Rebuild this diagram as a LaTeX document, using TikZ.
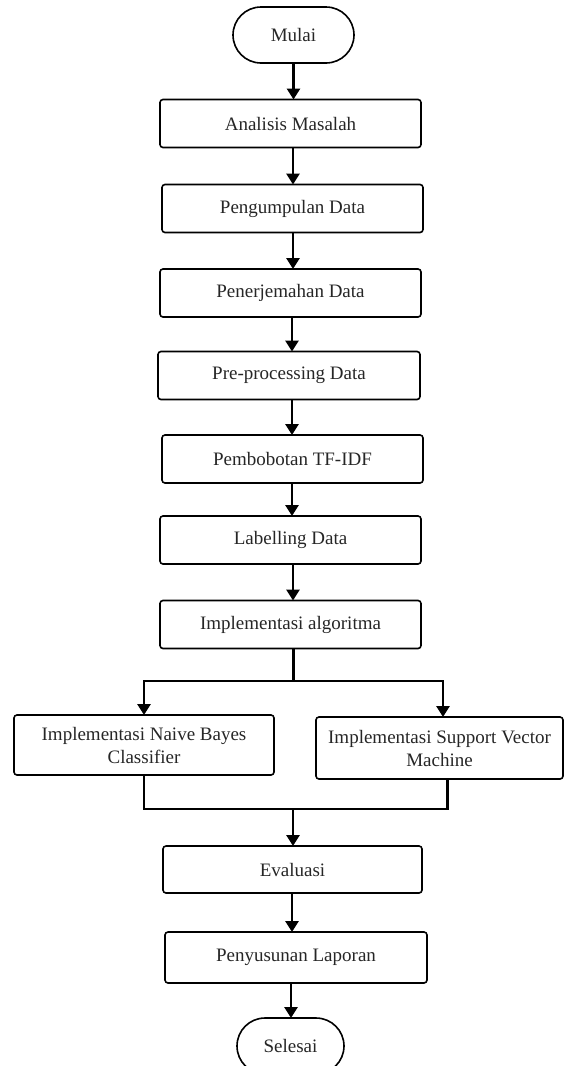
\documentclass[tikz,border=0pt]{standalone}
\usepackage{fontspec}
\setmainfont{Liberation Serif}
\usetikzlibrary{arrows.meta}
\begin{document}
\begin{tikzpicture}[x=1pt,y=-1pt,
  box/.style={draw, line width=1.6pt, rounded corners=3pt, minimum width=261pt, minimum height=48pt,
    inner sep=0pt, outer sep=0pt, align=center, font=\fontsize{19}{23}\selectfont, text=black!85},
  term/.style={box, rounded corners=28pt, minimum height=56pt},
  arr/.style={line width=2.8pt, -{Triangle[width=13pt,length=11pt]}},
  ln/.style={line width=2.2pt}]
\useasboundingbox (0,0) rectangle (565,1066);
\node[term, minimum width=121pt] (mulai) at (293.5,35) {Mulai};
\node[box] (a1) at (290.5,123.5) {Analisis Masalah};
\node[box] (a2) at (292.5,208.5) {Pengumpulan Data};
\node[box] (a3) at (290.5,293) {Penerjemahan Data};
\node[box, minimum width=262pt] (a4) at (289,375.5) {Pre-processing Data};
\node[box] (a5) at (292.5,459) {Pembobotan TF-IDF};
\node[box] (a6) at (290.5,540) {Labelling Data};
\node[box] (a7) at (290.5,624.5) {Implementasi algoritma};
\node[box, minimum width=260pt, minimum height=60pt] (nb) at (144,745) {Implementasi Naive Bayes\\Classifier};
\node[box, minimum width=247pt, minimum height=62pt] (svm) at (439.5,748) {Implementasi Support Vector\\Machine};
\node[box, minimum width=259pt, minimum height=47pt] (ev) at (292.5,869.5) {Evaluasi};
\node[box, minimum width=262pt, minimum height=51pt] (lap) at (296,957.5) {Penyusunan Laporan};
\node[term, minimum width=107pt] (sel) at (290.5,1046) {Selesai};

\coordinate (split) at (293.5,681);
\coordinate (merge) at (293,809);

\draw[arr] (mulai.south) -- (mulai.south |- a1.north);
\draw[arr] (a1.south -| 293,0) -- (a2.north -| 293,0);
\draw[arr] (a2.south -| 293,0) -- (a3.north -| 293,0);
\draw[arr] (a3.south -| 292,0) -- (a4.north -| 292,0);
\draw[arr] (a4.south -| 292,0) -- (a5.north -| 292,0);
\draw[arr] (a5.south -| 292,0) -- (a6.north -| 292,0);
\draw[arr] (a6.south -| 293,0) -- (a7.north -| 293,0);
\draw[ln] (a7.south -| split) -- (split);
\draw[arr] (split) -| (nb.north);
\draw[arr] (split) -| ([xshift=3.5pt]svm.north);
\draw[ln] (nb.south) |- (merge);
\draw[ln] ([xshift=8pt]svm.south) |- (merge);
\draw[arr] (merge) -- (merge |- ev.north);
\draw[arr] (ev.south -| 292,0) -- (lap.north -| 292,0);
\draw[arr] (lap.south -| 291,0) -- (sel.north -| 291,0);
\end{tikzpicture}
\end{document}
